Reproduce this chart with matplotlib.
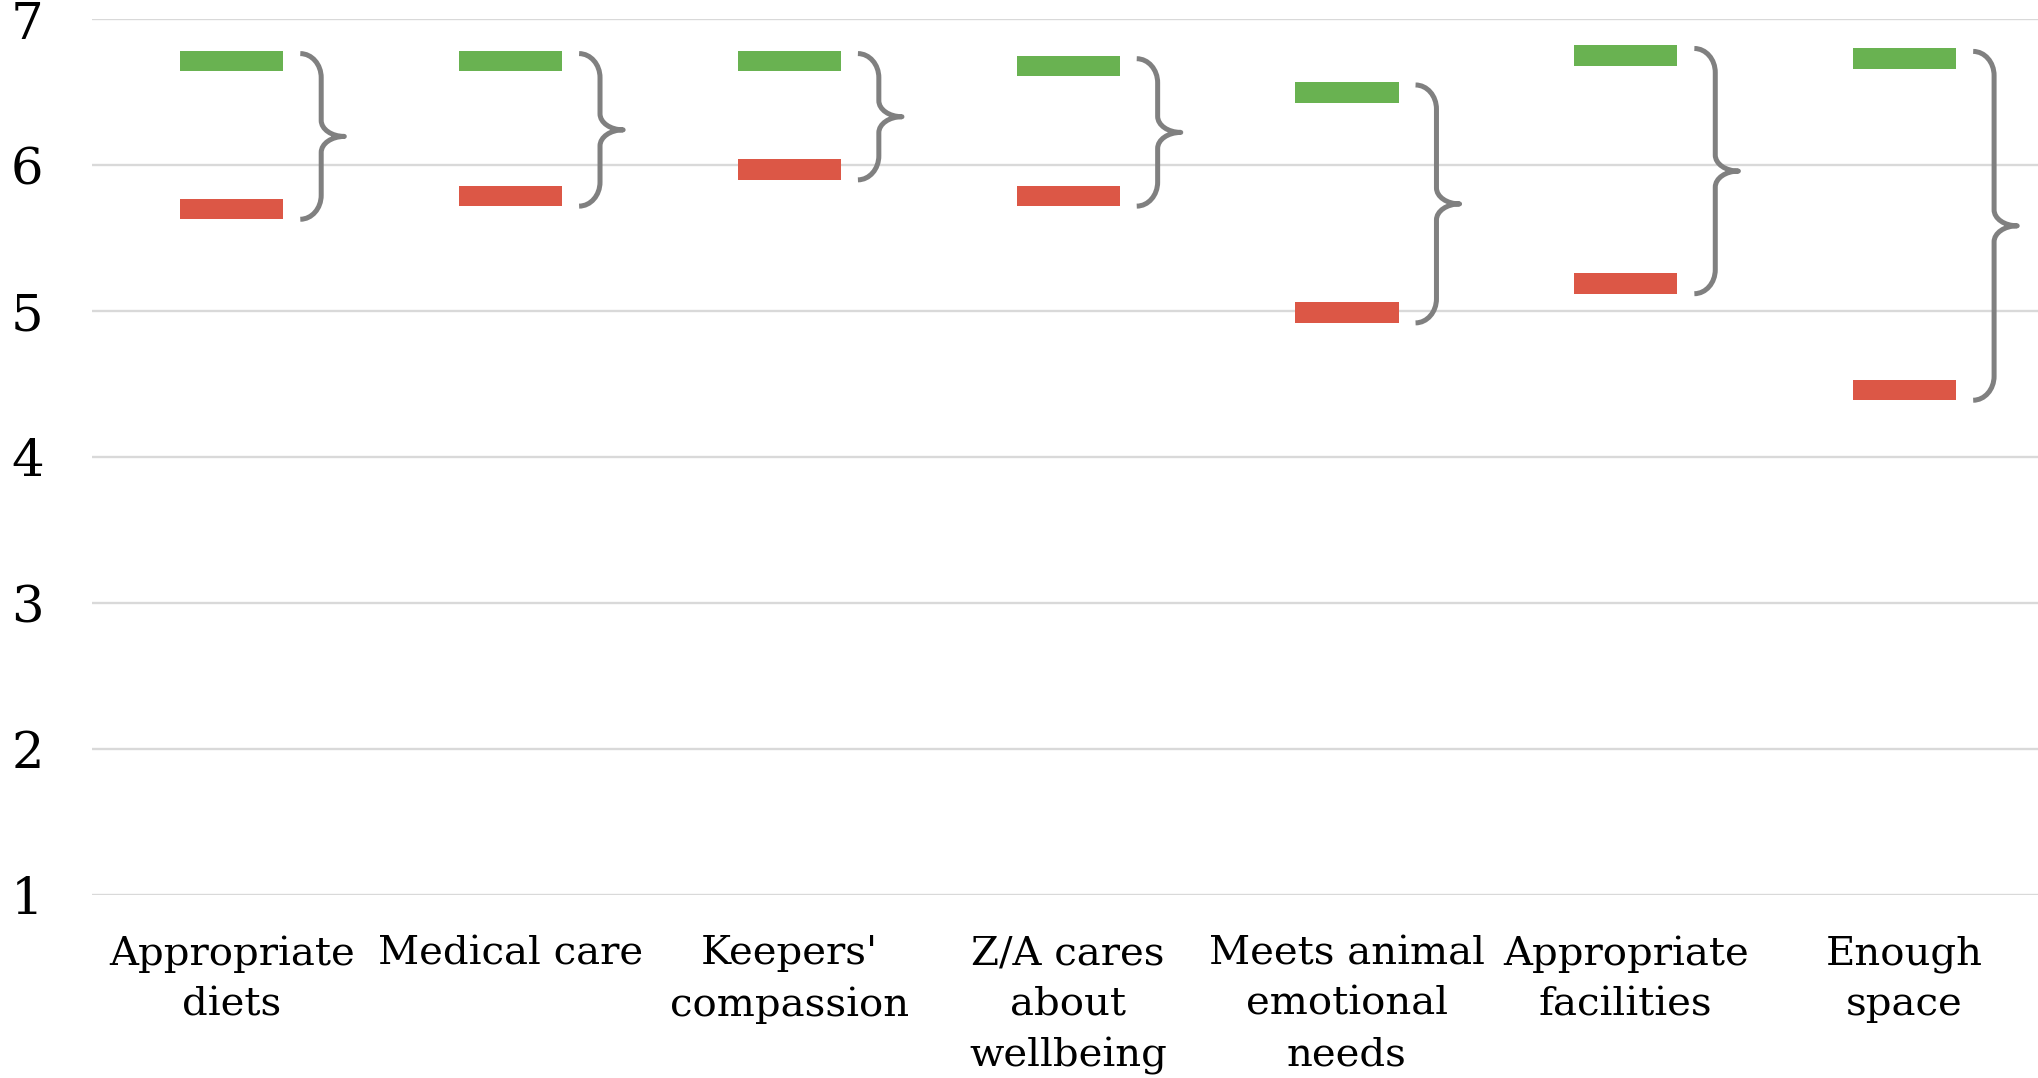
import matplotlib
matplotlib.use("Agg")
import matplotlib.pyplot as plt
from matplotlib.path import Path
from matplotlib.patches import PathPatch

categories = ["Appropriate\ndiets", "Medical care", "Keepers'\ncompassion",
              "Z/A cares\nabout\nwellbeing", "Meets animal\nemotional\nneeds",
              "Appropriate\nfacilities", "Enough\nspace"]
high_values = [6.715, 6.715, 6.715, 6.68, 6.50, 6.75, 6.73]
low_values = [5.70, 5.79, 5.97, 5.79, 4.99, 5.19, 4.46]
y_ticks = [1, 2, 3, 4, 5, 6, 7]

GREEN = "#69B251"
RED = "#DC5746"
BRACE = "#808080"
GRID = "#D9D9D9"

W, H = 2038, 1078
fig = plt.figure(figsize=(W / 100, H / 100), dpi=100)
left_px, right_px, top_px, bot_px = 92.3, 2044.0, 19.3, 895.0
ax = fig.add_axes([left_px / W, 1 - bot_px / H, (right_px - left_px) / W, (bot_px - top_px) / H])

x = list(range(len(categories)))
bar_w = 0.37
bar_h = 0.142

ax.bar(x, [bar_h] * len(x), bottom=[v - bar_h / 2 for v in high_values],
       width=bar_w, color=GREEN, zorder=3)
ax.bar(x, [bar_h] * len(x), bottom=[v - bar_h / 2 for v in low_values],
       width=bar_w, color=RED, zorder=3)

# braces
k = 0.552
for i, (g, r) in enumerate(zip(high_values, low_values)):
    x0, x1, x2 = i + 0.246, i + 0.321, i + 0.404
    top = g + 0.05
    bot = r - 0.07
    mid = (top + bot) / 2
    c = 0.165
    cm = 0.11
    verts = [
        (x0, top),
        (x0 + k * (x1 - x0), top), (x1, top - c + k * c), (x1, top - c),
        (x1, mid + cm),
        (x1, mid + cm - k * cm), (x2 - k * (x2 - x1), mid), (x2, mid),
        (x2 - k * (x2 - x1), mid), (x1, mid - cm + k * cm), (x1, mid - cm),
        (x1, bot + c),
        (x1, bot + c - k * c), (x0 + k * (x1 - x0), bot), (x0, bot),
    ]
    codes = [Path.MOVETO,
             Path.CURVE4, Path.CURVE4, Path.CURVE4,
             Path.LINETO,
             Path.CURVE4, Path.CURVE4, Path.CURVE4,
             Path.CURVE4, Path.CURVE4, Path.CURVE4,
             Path.LINETO,
             Path.CURVE4, Path.CURVE4, Path.CURVE4]
    ax.add_patch(PathPatch(Path(verts, codes), facecolor="none", edgecolor=BRACE,
                           lw=3.6, capstyle="butt", joinstyle="round", zorder=4))

ax.set_xlim(-0.5, len(categories) - 0.5)
ax.set_ylim(1, 7)
ax.set_yticks(y_ticks)
ax.set_yticklabels([str(t) for t in y_ticks], family="DejaVu Serif", fontsize=37)
ax.set_xticks(x)
ax.set_xticklabels(categories, family="DejaVu Serif", fontsize=29, linespacing=1.47)
ax.tick_params(axis="y", length=0, pad=35)
ax.tick_params(axis="x", length=0, pad=29)
ax.grid(axis="y", color=GRID, lw=1.7, zorder=0)
ax.set_axisbelow(True)
for s in ax.spines.values():
    s.set_visible(False)

fig.savefig("out.png", dpi=100)
